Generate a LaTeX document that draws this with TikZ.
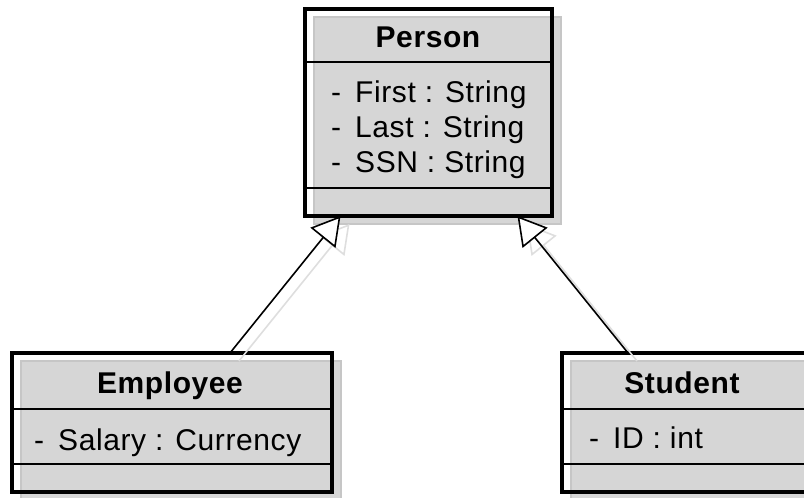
\documentclass[tikz,border=0pt]{standalone}
\usepackage{fontspec}
\setmainfont{Liberation Sans}[LetterSpace=2]
\usetikzlibrary{arrows.meta,shadows,positioning}
\definecolor{shadowgray}{RGB}{214,214,214}
\definecolor{shadowedge}{RGB}{198,198,198}
\definecolor{arrowshade}{RGB}{222,222,222}
\newcommand{\vis}{-\hspace{14pt}}

\begin{document}
\begin{tikzpicture}[x=1pt,y=-1pt]
			\tikzstyle{Class}	= [draw, line width=3.5pt, inner sep=0pt, outer sep=0pt,
						   drop shadow={shadow xshift=9pt, shadow yshift=-8pt, fill=shadowgray,
						   draw=shadowedge, line width=1.5pt, opacity=1}]
			\tikzstyle{Title}	= [anchor=base, inner sep=0pt, font=\bfseries\fontsize{30}{33}\selectfont]
			\tikzstyle{Attr}	= [anchor=base west, inner sep=0pt, font=\fontsize{30}{33}\selectfont]
			\tikzstyle{Divider}	= [line width=1.6pt]
			\tikzstyle{Inherit}	= [line width=1.6pt, -{Triangle[open, fill=white, length=28pt, width=32pt]}]
			\tikzstyle{Shade}	= [line width=1.6pt, draw=arrowshade, -{Triangle[open, length=28pt, width=32pt]},
						   transform canvas={xshift=9pt, yshift=-8pt}]

			\clip (0,0) rectangle (804,498);

			\node (person)   at (428.5,112.5) [Class, minimum width=247pt, minimum height=207pt] {};
			\node (employee) at (172,422.5)   [Class, minimum width=320pt, minimum height=139pt] {};
			\node (student)  at (687,422.5)   [Class, minimum width=250pt, minimum height=139pt] {};

			\draw [Divider] (305,62) -- (552,62);
			\draw [Divider] (305,188) -- (552,188);
			\draw [Divider] (12,409) -- (332,409);
			\draw [Divider] (12,464) -- (332,464);
			\draw [Divider] (562,409) -- (812,409);
			\draw [Divider] (562,464) -- (812,464);

			\node (pname)  at (428,47)  [Title] {Person};
			\node (first)  at (331,102) [Attr] {\vis First : String};
			\node (last)   at (331,137) [Attr] {\vis Last : String};
			\node (ssn)    at (331,172) [Attr] {\vis SSN : String};

			\node (ename)  at (170,393) [Title] {Employee};
			\node (salary) at (34,450)  [Attr] {\vis Salary : Currency};

			\node (sname)  at (682,393) [Title] {Student};
			\node (id)     at (589,448) [Attr] {\vis ID : int};

			\draw [Shade] ([xshift=58pt]employee.north) to ([xshift=-88pt]person.south);
			\draw [Shade] ([xshift=-59pt]student.north) to ([xshift=89pt]person.south);
			\draw [Inherit] ([xshift=58pt]employee.north) to ([xshift=-88pt]person.south);
			\draw [Inherit] ([xshift=-59pt]student.north) to ([xshift=89pt]person.south);
		\end{tikzpicture}
\end{document}
